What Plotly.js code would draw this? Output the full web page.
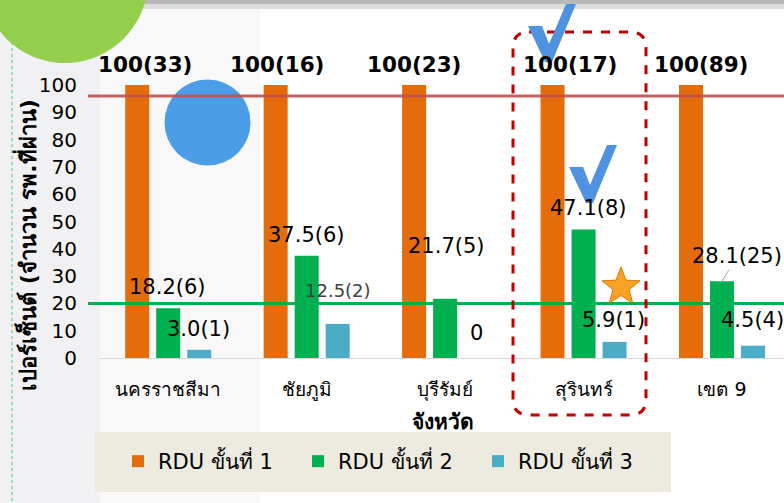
<!DOCTYPE html>
<html>
<head>
<meta charset="utf-8">
<script src="https://cdn.plot.ly/plotly-3.0.1.min.js"></script>
<style>html,body{margin:0;padding:0;background:#fff;}#chart{width:784px;height:503px;}</style>
</head>
<body>
<div id="chart"></div>
<script>
// ---- data ----
const provinces = ["นครราชสีมา", "ชัยภูมิ", "บุรีรัมย์", "สุรินทร์", "เขต 9"];
const seriesNames = ["RDU ขั้นที่ 1", "RDU ขั้นที่ 2", "RDU ขั้นที่ 3"];
const stage1 = [100, 100, 100, 100, 100];
const stage2 = [18.2, 37.5, 21.7, 47.1, 28.1];
const stage3 = [3.0, 12.5, 0, 5.9, 4.5];
const stage1Labels = ["100(33)", "100(16)", "100(23)", "100(17)", "100(89)"];
const stage2Labels = ["18.2(6)", "37.5(6)", "21.7(5)", "47.1(8)", "28.1(25)"];
const stage3Labels = ["3.0(1)", "12.5(2)", "0", "5.9(1)", "4.5(4)"];
const targetStage1 = 96;
const targetStage2 = 20;
const yTicks = [0, 10, 20, 30, 40, 50, 60, 70, 80, 90, 100];

// ---- styling / layout helpers ----
const colors = ["#E46C0A", "#00B050", "#4BACC6"];
const FONT = "Tahoma, 'DejaVu Sans', 'Noto Sans', sans-serif";
const L = 99, T = 85, B = 145, W = 784, H = 503;
const plotW = W - L, plotH = H - T - B;
const px = x => (x - L) / plotW;
const py = y => (H - B - y) / plotH;

const seriesShift = [-31, 0, 31];
// label offsets (pixels) relative to the bar top centre
const dx1 = [8, 1, 0, 17, 10], dy1 = [21, 21, 21, 21, 21];
const dx2 = [-1, 0, 1, 5, 15], dy2 = [21, 21, 53, 21, 25];
const dx3 = [-1, 0, 0, -1, -1], dy3 = [21, 33, 25, 22, 26];

const traces = [stage1, stage2, stage3].map((v, i) => ({
  type: "bar", x: provinces, y: v, name: seriesNames[i],
  marker: {color: colors[i]}, hoverinfo: "skip"
}));

const annotations = [];
provinces.forEach((p, j) => {
  annotations.push({x: p, y: stage1[j], xref: "x", yref: "y", text: "<b>" + stage1Labels[j] + "</b>",
    showarrow: false, xshift: seriesShift[0] + dx1[j], yshift: dy1[j], xanchor: "center", yanchor: "middle",
    font: {family: "'DejaVu Sans', sans-serif", size: 21.5, color: "#000"}});
  if (j === 4) {
    annotations.push({x: p, y: stage2[j], xref: "x", yref: "y", text: stage2Labels[j],
      showarrow: true, arrowhead: 0, arrowwidth: 1, arrowcolor: "#A6A6A6", standoff: 0,
      ax: dx2[j], ay: -dy2[j], xshift: seriesShift[1], xanchor: "center", yanchor: "middle",
      font: {family: FONT, size: 21, color: "#000"}});
  } else {
    annotations.push({x: p, y: stage2[j], xref: "x", yref: "y", text: stage2Labels[j],
      showarrow: false, xshift: seriesShift[1] + dx2[j], yshift: dy2[j], xanchor: "center", yanchor: "middle",
      font: {family: FONT, size: 21, color: "#000"}});
  }
  annotations.push({x: p, y: stage3[j], xref: "x", yref: "y", text: stage3Labels[j],
    showarrow: false, xshift: seriesShift[2] + dx3[j], yshift: dy3[j], xanchor: "center", yanchor: "middle",
    font: {family: FONT, size: j === 1 ? 18 : 21, color: j === 1 ? "#404040" : "#000"}});
});

// axis titles
annotations.push({xref: "paper", yref: "paper", x: px(26), y: py(245), xanchor: "center", yanchor: "middle", textangle: -90,
  text: "<b>เปอร์เซ็นต์ (จำนวน รพ.ที่ผ่าน)</b>", showarrow: false,
  font: {family: FONT, size: 22, color: "#000"}});
annotations.push({xref: "paper", yref: "paper", x: px(443), y: py(422), xanchor: "center", yanchor: "middle",
  text: "<b>จังหวัด</b>", showarrow: false, font: {family: FONT, size: 21, color: "#000"}});

function pathFromPixels(pts) {
  return "M" + pts.map(p => px(p[0]) + "," + py(p[1])).join(" L") + " Z";
}
function roundRect(x0, y0, x1, y1, r) {
  const X0 = px(x0), X1 = px(x1), Y0 = py(y0), Y1 = py(y1);
  const rx = r / plotW, ry = r / plotH;
  return `M${X0 + rx},${Y0} L${X1 - rx},${Y0} Q${X1},${Y0} ${X1},${Y0 - ry} L${X1},${Y1 + ry} Q${X1},${Y1} ${X1 - rx},${Y1} L${X0 + rx},${Y1} Q${X0},${Y1} ${X0},${Y1 + ry} L${X0},${Y0 - ry} Q${X0},${Y0} ${X0 + rx},${Y0} Z`;
}
function checkPath(ox, oy) {
  const base = [[0, 0], [14, 0], [21, 18], [38, -22], [48, -22], [24, 36], [17, 36]];
  return pathFromPixels(base.map(p => [p[0] + ox, p[1] + oy]));
}
function starPath(cx, cy, ro, ri) {
  const pts = [];
  for (let k = 0; k < 10; k++) {
    const r = k % 2 === 0 ? ro : ri;
    const a = -Math.PI / 2 + k * Math.PI / 5;
    pts.push([cx + r * Math.cos(a), cy + r * Math.sin(a)]);
  }
  return pathFromPixels(pts);
}

const shapes = [
  // background tint on the left
  {type: "rect", xref: "paper", yref: "paper", x0: px(0), x1: px(100), y0: py(H), y1: py(0),
    fillcolor: "#F1F1F3", line: {width: 0}, layer: "below"},
  {type: "rect", xref: "paper", yref: "paper", x0: px(100), x1: px(260), y0: py(H), y1: py(0),
    fillcolor: "#F8F8F9", line: {width: 0}, layer: "below"},
  {type: "rect", xref: "paper", yref: "paper", x0: px(0), x1: px(W), y0: py(4), y1: py(0),
    fillcolor: "#B8B8B8", line: {width: 0}, layer: "below"},
  {type: "rect", xref: "paper", yref: "paper", x0: px(0), x1: px(W), y0: py(9), y1: py(4),
    fillcolor: "#DCDCDC", line: {width: 0}, layer: "below"},
  {type: "line", xref: "paper", yref: "paper", x0: px(12), x1: px(12), y0: py(12), y1: py(H),
    line: {color: "#3DCB7A", width: 1, dash: "dot"}},
  // legend box
  {type: "rect", xref: "paper", yref: "paper", x0: px(95), x1: px(671), y0: py(492), y1: py(432),
    fillcolor: "#EDEBE0", line: {width: 0}, layer: "below"},
  // green circle
  {type: "circle", xref: "paper", yref: "paper", x0: px(65 - 83), x1: px(65 + 83), y0: py(-20 + 83), y1: py(-20 - 83),
    fillcolor: "#94CF4E", line: {width: 0}, layer: "above"},
  // blue circle
  {type: "circle", xref: "paper", yref: "paper", x0: px(207.5 - 43), x1: px(207.5 + 43), y0: py(122.5 + 43), y1: py(122.5 - 43),
    fillcolor: "#4C9DE8", line: {width: 0}, layer: "above"},
  // target lines
  {type: "line", xref: "paper", yref: "y", x0: px(88), x1: 1, y0: targetStage1, y1: targetStage1,
    line: {color: "rgba(192,80,77,0.9)", width: 3}, layer: "above"},
  {type: "line", xref: "paper", yref: "y", x0: px(88), x1: 1, y0: targetStage2, y1: targetStage2,
    line: {color: "#00B050", width: 3}, layer: "above"},
  // red dashed highlight
  {type: "path", xref: "paper", yref: "paper", path: roundRect(513, 32, 646, 415, 16),
    line: {color: "#C00000", width: 3, dash: "dash"}, layer: "above"},
  // check marks and star
  {type: "path", xref: "paper", yref: "paper", path: checkPath(528, 26),
    fillcolor: "#4F92E0", line: {width: 0}, layer: "above"},
  {type: "path", xref: "paper", yref: "paper", path: checkPath(569, 167),
    fillcolor: "#4F92E0", line: {width: 0}, layer: "above"},
  {type: "path", xref: "paper", yref: "paper", path: starPath(621, 287, 20, 8.5),
    fillcolor: "#F6A225", line: {color: "#E07800", width: 1}, layer: "above"}
];

const layout = {
  width: W, height: H,
  margin: {l: L, r: 0, t: T, b: B, pad: 0},
  paper_bgcolor: "#FFFFFF", plot_bgcolor: "rgba(0,0,0,0)",
  barmode: "group", bargap: 0.328, bargroupgap: 0.226,
  showlegend: true,
  legend: {orientation: "h", x: px(118), y: py(441), xanchor: "left", yanchor: "top",
    bgcolor: "rgba(0,0,0,0)", entrywidth: 135, entrywidthmode: "pixels",
    font: {family: FONT, size: 21, color: "#000"}, traceorder: "normal"},
  xaxis: {range: [-0.5, (W - 168) / 138.5], fixedrange: true, showgrid: false, zeroline: false,
    showline: true, linecolor: "#D9D9D9", linewidth: 1, ticks: "", ticklabelstandoff: 14,
    tickfont: {family: FONT, size: 19, color: "#000"}},
  yaxis: {range: [0, 100], tickvals: yTicks, fixedrange: true, showgrid: false, zeroline: false,
    showline: false, ticks: "", ticklabelstandoff: 21,
    tickfont: {family: FONT, size: 20, color: "#000"}},
  annotations: annotations, shapes: shapes
};

Plotly.newPlot("chart", traces, layout, {staticPlot: true, displayModeBar: false});
</script>
</body>
</html>
